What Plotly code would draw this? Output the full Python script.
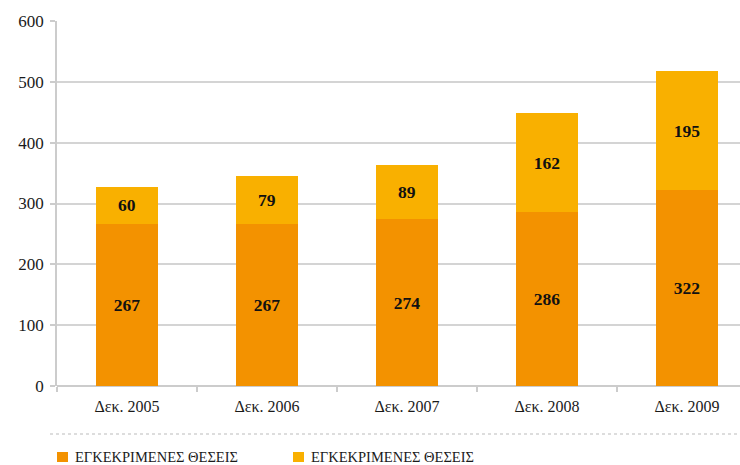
import plotly.graph_objects as go

categories = ["Δεκ. 2005", "Δεκ. 2006", "Δεκ. 2007", "Δεκ. 2008", "Δεκ. 2009"]
series_bottom = [267, 267, 274, 286, 322]
series_top = [60, 79, 89, 162, 195]
series_names = ["ΕΓΚΕΚΡΙΜΕΝΕΣ ΘΕΣΕΙΣ", "ΕΓΚΕΚΡΙΜΕΝΕΣ ΘΕΣΕΙΣ"]
y_ticks = [0, 100, 200, 300, 400, 500, 600]

colors = ["#F39200", "#F9B000"]
FONT = "Liberation Serif, Times New Roman, serif"

fig = go.Figure()
for vals, name, col in [(series_bottom, series_names[0], colors[0]),
                        (series_top, series_names[1], colors[1])]:
    fig.add_trace(go.Bar(
        x=categories, y=vals, name=name, marker=dict(color=col, line=dict(width=0)),
        text=[str(v) for v in vals], textposition="inside", insidetextanchor="middle",
        textfont=dict(family=FONT, size=17.5, color="#111111", weight="bold"),
        textangle=0, showlegend=False, cliponaxis=False, hoverinfo="skip",
    ))

fig.update_layout(
    barmode="stack", bargap=0.56,
    width=740, height=465,
    margin=dict(l=57, r=0, t=21, b=79),
    plot_bgcolor="white", paper_bgcolor="white",
    font=dict(family=FONT, size=16, color="#1a1a1a"),
)
fig.update_xaxes(
    range=[-0.5, 4.379], tickson="boundaries", ticks="outside", ticklen=5,
    tickcolor="#cccccc", tickwidth=1.5, showline=False, showgrid=False,
    ticklabelstandoff=9,
    tickfont=dict(family=FONT, size=16, color="#1a1a1a"),
)
fig.update_yaxes(
    range=[0, 600], tickvals=y_ticks, ticks="outside", ticklen=5, tickcolor="#cccccc",
    tickwidth=1.5, showline=True, linecolor="#cccccc", linewidth=1.5,
    gridcolor="#d4d4d4", gridwidth=1.5, zeroline=True, zerolinecolor="#cccccc",
    zerolinewidth=1.5, ticklabelstandoff=3,
    tickfont=dict(family=FONT, size=17, color="#1a1a1a"),
)

# dotted separator
fig.add_shape(type="line", xref="paper", yref="paper", x0=-7 / 683, x1=1.0,
              y0=-(434 - 386) / 365, y1=-(434 - 386) / 365,
              line=dict(color="#bbbbbb", width=1.2, dash="dot"))

# manual legend
legend_x = [57, 293]
for i, (name, col) in enumerate(zip(series_names, colors)):
    px = legend_x[i]
    fig.add_shape(type="rect", xref="paper", yref="paper",
                  x0=(px - 57) / 683, x1=(px + 11 - 57) / 683,
                  y0=-(462 - 386) / 365, y1=-(452 - 386) / 365,
                  fillcolor=col, line=dict(width=0))
    fig.add_annotation(xref="paper", yref="paper", x=(px + 16 - 57) / 683,
                       y=-(456.5 - 386) / 365, xanchor="left", yanchor="middle",
                       text=name, showarrow=False,
                       font=dict(family=FONT, size=14.5, color="#1a1a1a"))

fig.write_html("out.html", config={"displayModeBar": False},
               post_script="document.body.style.margin='0px';")
